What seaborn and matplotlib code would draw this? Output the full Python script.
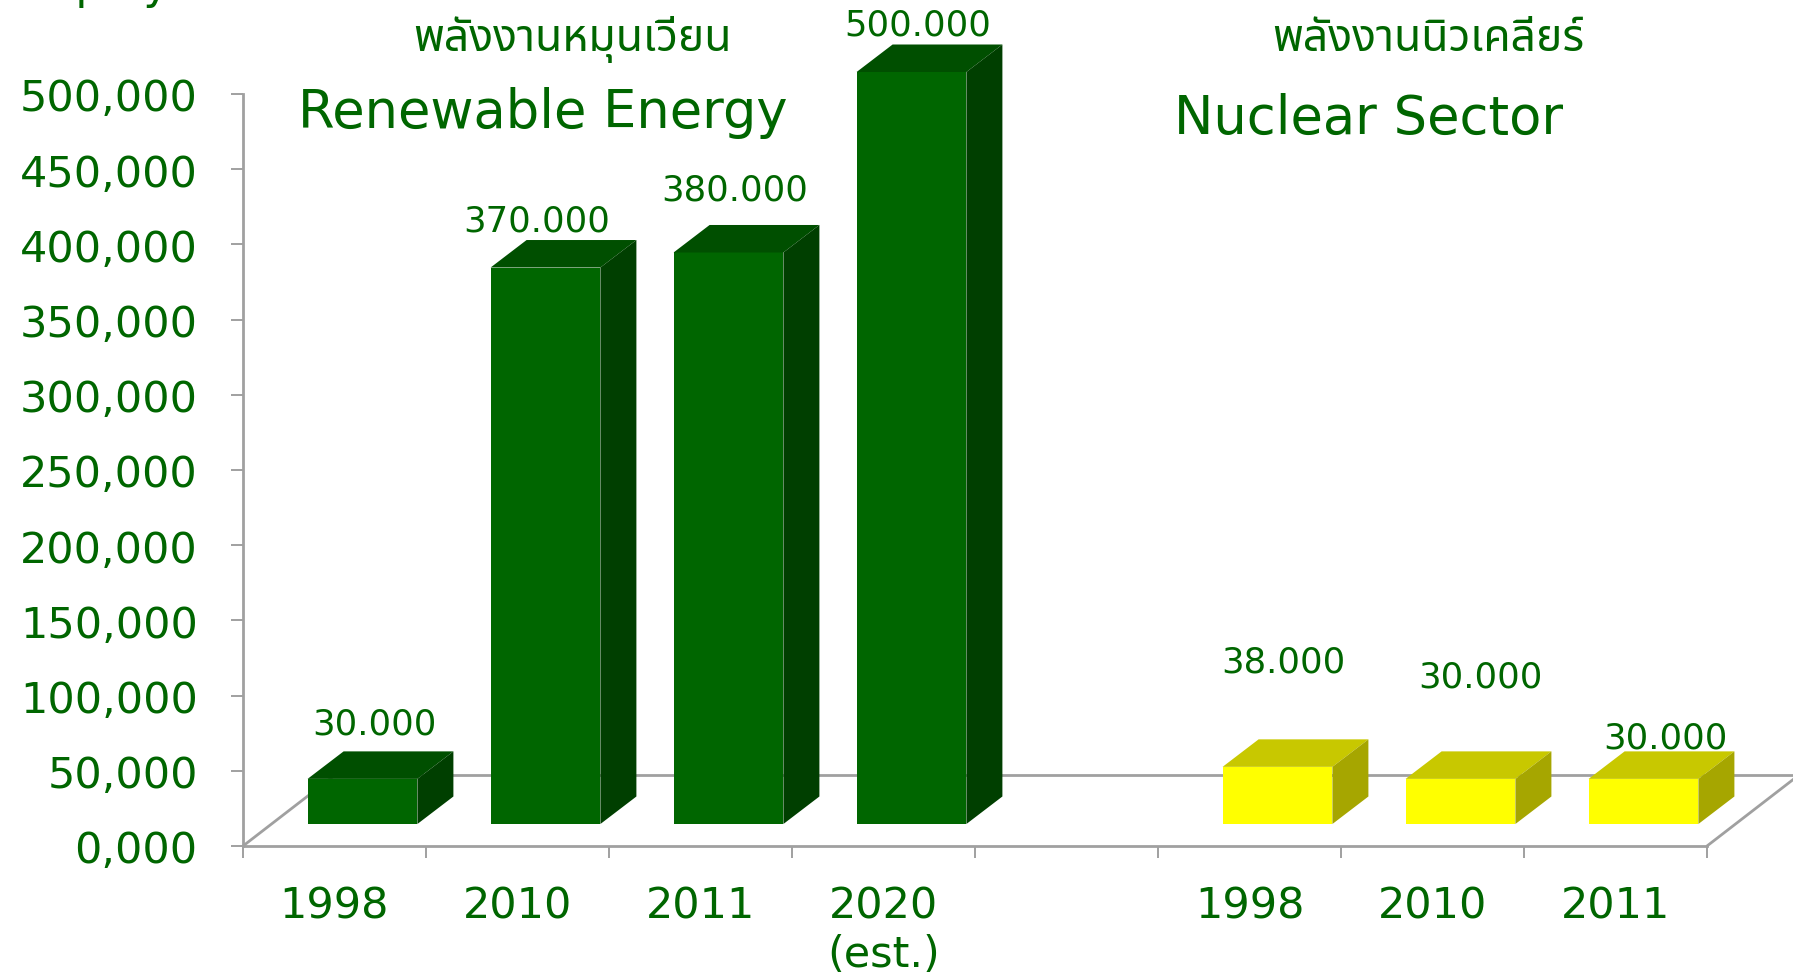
import numpy as np
import pandas as pd
import seaborn as sns
import matplotlib.pyplot as plt
from matplotlib.patches import Polygon

# data
categories = ['re_1998', 're_2010', 're_2011', 're_2020', 'gap', 'nu_1998', 'nu_2010', 'nu_2011']
x_labels = ['1998', '2010', '2011', '2020\n(est.)', '', '1998', '2010', '2011']
bar_keys = ['re_1998', 're_2010', 're_2011', 're_2020', 'nu_1998', 'nu_2010', 'nu_2011']
sectors = ['renew', 'renew', 'renew', 'renew', 'nuclear', 'nuclear', 'nuclear']
values = [30000, 370000, 380000, 500000, 38000, 30000, 30000]
y_ticks = [0, 50000, 100000, 150000, 200000, 250000, 300000, 350000, 400000, 450000, 500000]

# label nudges in pixels (Excel put them a bit irregularly)
label_dx = [12, -9, 6, 6, 6, 20, 22]
label_dy = [28, 20, 35, 20, 78, 75, 14]

green = '#006600'
faces = {
    'renew': {'front': '#006600', 'top': '#004f00', 'side': '#003f00'},
    'nuclear': {'front': '#ffff00', 'top': '#c8c800', 'side': '#a6a600'},
}
floor_col = '#a0a0a0'

sns.set_style('white')
plt.rcParams['font.family'] = ['DejaVu Sans']
thai_fonts = ['Noto Sans Thai', 'Noto Sans Thai UI', 'Loma', 'Garuda', 'Tlwg Typo', 'Norasi', 'DejaVu Sans']

W, H = 1793, 979
fig = plt.figure(figsize=(W / 100, H / 100), dpi=100)
# axes spans the front floor edge and the value scale
ax = fig.add_axes([243 / W, (H - 847) / H, 1464 / W, 752 / H])

df = pd.DataFrame({'key': bar_keys, 'value': values, 'sector': sectors})
sns.barplot(data=df, x='key', y='value', hue='sector', order=categories,
            palette={k: v['front'] for k, v in faces.items()}, dodge=False,
            width=0.6, saturation=1, legend=False, ax=ax, zorder=3)

ax.set_xlim(-0.5, 7.5)
ax.set_ylim(0, 500000)

ux = 1464 / 8        # px per category
uy = 752 / 500000    # px per value unit

# 3d look: front faces sit a little back on the floor
shift_x, shift_y = 28 / ux, 22 / uy
depth_x, depth_y = 36 / ux, 27.5 / uy
floor_x, floor_y = 92 / ux, 71 / uy

for xs, ys in [([-0.5 + floor_x, 7.5 + floor_x], [floor_y, floor_y]),
               ([-0.5, -0.5 + floor_x], [0, floor_y]),
               ([7.5, 7.5 + floor_x], [0, floor_y])]:
    ax.plot(xs, ys, color=floor_col, lw=2, clip_on=False, zorder=1)

bars = sorted([p for p in ax.patches if p.get_height() > 0], key=lambda p: p.get_x())
for i, p in enumerate(bars):
    sec = sectors[i]
    w = p.get_width()
    x0 = p.get_x() + shift_x
    y0 = shift_y
    yt = y0 + p.get_height()
    p.set_x(x0)
    p.set_y(y0)
    p.set_clip_on(False)
    p.set_edgecolor('none')
    top = Polygon([(x0, yt), (x0 + w, yt), (x0 + w + depth_x, yt + depth_y), (x0 + depth_x, yt + depth_y)],
                  closed=True, facecolor=faces[sec]['top'], edgecolor='none', clip_on=False, zorder=3)
    side = Polygon([(x0 + w, y0), (x0 + w + depth_x, y0 + depth_y), (x0 + w + depth_x, yt + depth_y), (x0 + w, yt)],
                   closed=True, facecolor=faces[sec]['side'], edgecolor='none', clip_on=False, zorder=3)
    ax.add_patch(top)
    ax.add_patch(side)
    lbl = f'{values[i]:,}'.replace(',', '.')
    ax.annotate(lbl, (x0 + w / 2, yt + depth_y), xytext=(label_dx[i], label_dy[i]),
                textcoords='offset pixels', ha='center', va='center',
                fontsize=25.5, color=green, annotation_clip=False, zorder=5)

# axes styling
sns.despine(ax=ax, top=True, right=True)
for s in ['left', 'bottom']:
    ax.spines[s].set_color(floor_col)
    ax.spines[s].set_linewidth(2)
ax.set_yticks(y_ticks)
ax.set_yticklabels([f'{v // 1000},000' for v in y_ticks])
ax.tick_params(axis='y', left=True, length=8.6, width=1.4, color=floor_col, pad=24,
               labelsize=31, labelcolor=green)
ax.set_xticks(range(len(categories)))
ax.set_xticklabels(x_labels)
ax.set_xticks(np.arange(-0.5, 8, 1), minor=True)
ax.tick_params(axis='x', which='major', bottom=True, length=0, pad=28, labelsize=31, labelcolor=green)
ax.tick_params(axis='x', which='minor', bottom=True, length=8.6, width=1.4, color=floor_col)
ax.set_xlabel('')
ax.set_ylabel('')

# titles
fig.text(543 / W, 1 - 128 / H, 'Renewable Energy', ha='center', va='baseline', fontsize=38, color=green)
fig.text(1369 / W, 1 - 134 / H, 'Nuclear Sector', ha='center', va='baseline', fontsize=38, color=green)
fig.text(572 / W, 1 - 51 / H, 'พลังงานหมุนเวียน', ha='center', va='baseline', fontsize=32,
         fontweight='bold', color=green, family=thai_fonts)
fig.text(1428 / W, 1 - 51 / H, 'พลังงานนิวเคลียร์', ha='center', va='baseline', fontsize=32,
         fontweight='bold', color=green, family=thai_fonts)
# axis title, mostly cut off at the top edge in the original
fig.text(5 / W, 1 + 1 / H, 'Employment', ha='left', va='baseline', fontsize=32, color=green)

fig.savefig('out.png', dpi=100)
